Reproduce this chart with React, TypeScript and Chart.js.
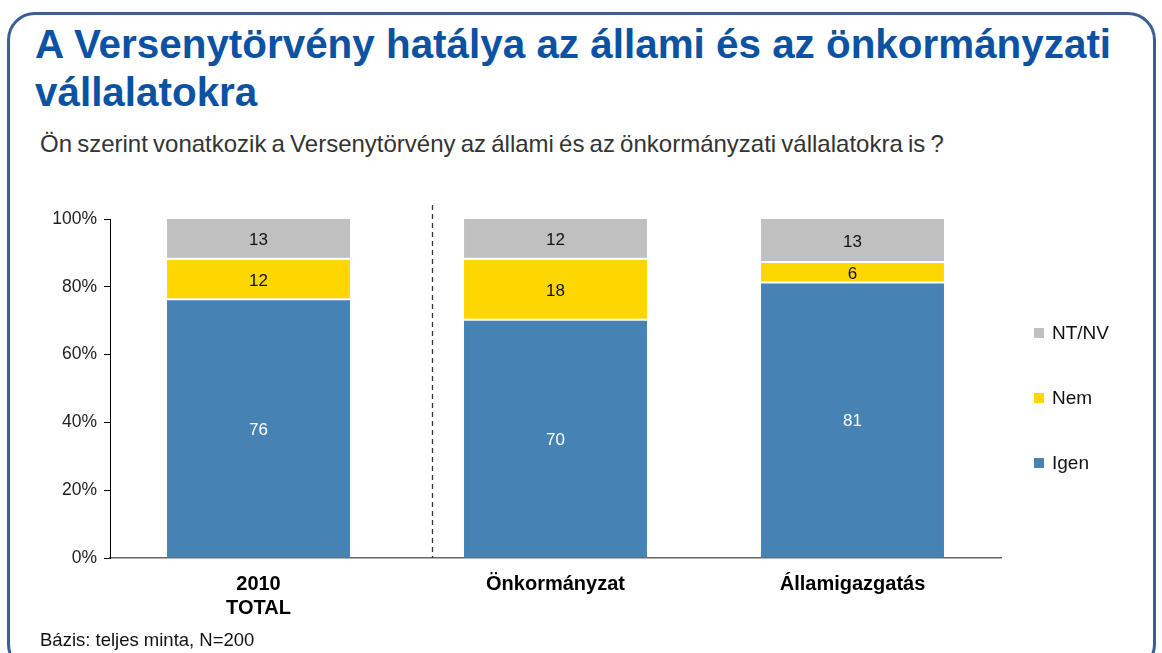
import React, { useEffect, useRef } from "react";
import { Chart, registerables } from "chart.js";

Chart.register(...registerables);

const categories: string[][] = [["2010", "TOTAL"], ["Önkormányzat"], ["Államigazgatás"]];
const igenValues = [76, 70, 81];
const nemValues = [12, 18, 6];
const ntnvValues = [13, 12, 13];
const seriesNames = ["Igen", "Nem", "NT/NV"];
const seriesColors = ["#4682B4", "#FFD700", "#C0C0C0"];
const yTicks = [0, 20, 40, 60, 80, 100];
const separatorAt = 0.585; // category units between first and second bar

const titleText = "A Versenytörvény hatálya az állami és az önkormányzati vállalatokra";
const subtitleText = "Ön szerint vonatkozik a Versenytörvény az állami és az önkormányzati vállalatokra is ?";
const footnoteText = "Bázis: teljes minta, N=200";

const FONT = "'Liberation Sans', Arial, sans-serif";

const labelPlugin = {
  id: "segLabels",
  afterDatasetsDraw(chart: any) {
    const { ctx, chartArea } = chart;
    ctx.save();
    ctx.font = `17px ${FONT}`;
    ctx.textAlign = "center";
    ctx.textBaseline = "middle";
    chart.data.datasets.forEach((ds: any, di: number) => {
      const meta = chart.getDatasetMeta(di);
      meta.data.forEach((el: any, i: number) => {
        const top = Math.max(el.y, chartArea.top);
        const bottom = Math.min(el.base, chartArea.bottom);
        ctx.fillStyle = di === 0 ? "#ffffff" : "#111111";
        ctx.fillText(String(ds.data[i]), el.x, (top + bottom) / 2 + 1);
      });
    });
    ctx.restore();
  },
};

const separatorPlugin = {
  id: "separator",
  afterDraw(chart: any) {
    const { ctx, chartArea, scales } = chart;
    const x = Math.round(scales.x.getPixelForValue(separatorAt)) + 0.5;
    ctx.save();
    ctx.strokeStyle = "#333";
    ctx.lineWidth = 1.3;
    ctx.setLineDash([5, 4]);
    ctx.beginPath();
    ctx.moveTo(x, chartArea.top - 14);
    ctx.lineTo(x, chartArea.bottom);
    ctx.stroke();
    ctx.restore();
  },
};

export default function App() {
  const canvasRef = useRef<HTMLCanvasElement | null>(null);

  useEffect(() => {
    const canvas = canvasRef.current;
    if (!canvas) return;
    const values = [igenValues, nemValues, ntnvValues];
    const chart = new Chart(canvas, {
      type: "bar",
      data: {
        labels: categories as any,
        datasets: values.map((v, i) => ({
          label: seriesNames[i],
          data: v,
          backgroundColor: seriesColors[i],
          borderColor: "#ffffff",
          borderWidth: i === 0 ? 0 : { top: 0, left: 0, right: 0, bottom: 2 },
          borderSkipped: false,
          categoryPercentage: 1,
          barPercentage: 0.616,
        })) as any,
      },
      options: {
        animation: false,
        responsive: false,
        maintainAspectRatio: false,
        layout: { padding: { top: 219, left: 0, right: 161, bottom: 0 } },
        plugins: { legend: { display: false }, tooltip: { enabled: false }, title: { display: false } },
        scales: {
          x: {
            stacked: true,
            grid: { display: false },
            border: { display: true, color: "#666", width: 1.5 },
            ticks: { color: "#000", font: { family: FONT, size: 20, weight: "bold", lineHeight: 1.2 }, padding: 6, maxRotation: 0 },
            afterFit(scale: any) { scale.height = 95; },
          },
          y: {
            stacked: true,
            min: 0,
            max: 100,
            afterBuildTicks(scale: any) { scale.ticks = yTicks.map((v) => ({ value: v })); },
            grid: { drawOnChartArea: false, drawTicks: true, tickLength: 6, color: "#000", lineWidth: 1 },
            border: { display: true, color: "#000", width: 1 },
            ticks: { color: "#222", font: { family: FONT, size: 17.5 }, padding: 7, callback: (v: any) => `${v}%` },
            afterFit(scale: any) { scale.width = 110; },
          },
        },
      },
      plugins: [labelPlugin, separatorPlugin],
    });
    return () => chart.destroy();
  }, []);

  const legendItems = [2, 1, 0];

  return (
    <div style={{ position: "fixed", left: 0, top: 0, width: 1162, height: 653, overflow: "hidden", background: "#fff", fontFamily: FONT }}>
      <div style={{ position: "absolute", left: 7, top: 12, width: 1149, height: 660, border: "3px solid #3b5f94", borderRadius: 28, boxSizing: "border-box" }} />
      <div style={{ position: "absolute", left: 35, top: 21, width: 1120, fontSize: 40.4, fontWeight: "bold", lineHeight: "47.5px", color: "#0b52a3" }}>{titleText}</div>
      <div style={{ position: "absolute", left: 40, top: 132, fontSize: 24, lineHeight: "24px", color: "#333", whiteSpace: "nowrap", wordSpacing: -1.5 }}>{subtitleText}</div>
      <canvas ref={canvasRef} width={1162} height={653} style={{ position: "absolute", left: 0, top: 0, width: 1162, height: 653 }} />
      {legendItems.map((si, k) => (
        <div key={si} style={{ position: "absolute", left: 1034, top: 322 + k * 65, height: 22, display: "flex", alignItems: "center", fontSize: 19, color: "#111" }}>
          <span style={{ display: "inline-block", width: 10, height: 10, background: seriesColors[si], marginRight: 8 }} />
          {seriesNames[si]}
        </div>
      ))}
      <div style={{ position: "absolute", left: 40, top: 631, fontSize: 18.5, lineHeight: "18.5px", color: "#111", whiteSpace: "nowrap" }}>{footnoteText}</div>
    </div>
  );
}
